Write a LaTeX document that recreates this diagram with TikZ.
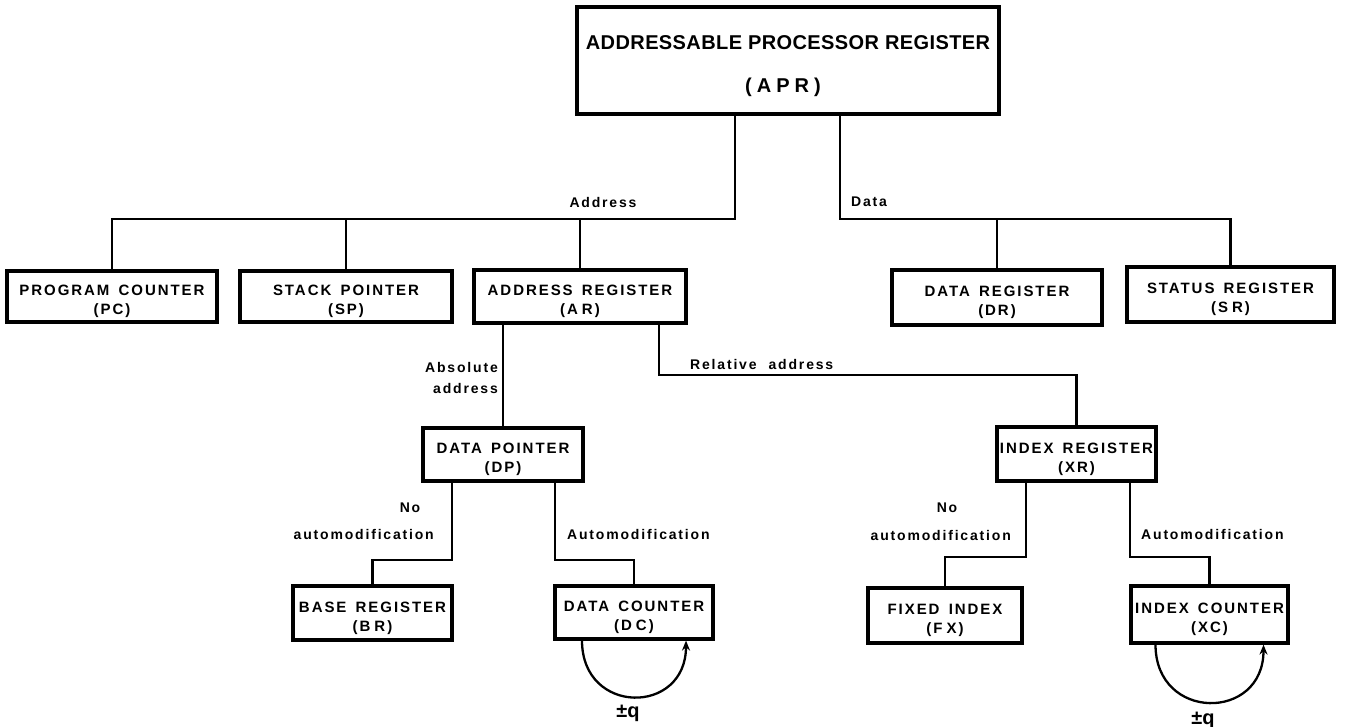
\documentclass[tikz,border=0pt]{standalone}
\usepackage{fontspec}
\setmainfont{Liberation Sans}
\newfontfamily\lblfont[LetterSpace=13,WordSpace=1.5]{Liberation Sans}
\newfontfamily\titlefont[LetterSpace=2]{Liberation Sans}
\newfontfamily\aprfont[LetterSpace=25]{Liberation Sans}
\newcommand\bxup{\rule{0pt}{21pt}}
\newcommand\lsp{\hspace{4pt}}
\usetikzlibrary{arrows.meta}
\begin{document}
\begin{tikzpicture}[x=1pt,y=-1pt,
  box/.style={draw, line width=3.2pt, inner sep=0pt, align=center,
    font=\lblfont\bfseries\fontsize{15}{19}\selectfont},
  conn/.style={line width=2.3pt},
  loop/.style={line width=2.3pt, -{Stealth[length=10pt,width=8pt]}},
  lbl/.style={inner sep=0pt, font=\lblfont\bfseries\fontsize{14}{17}\selectfont},
  ttl/.style={inner sep=0pt, font=\titlefont\bfseries\fontsize{20}{24}\selectfont},
  pmq/.style={inner sep=0pt, font=\bfseries\fontsize{20}{22}\selectfont}]
\useasboundingbox (0,0) rectangle (1349,727);

% boxes
\node[box, minimum width=422pt, minimum height=107pt] (apr) at (788,60.5) {};
\node[ttl] (aprt) at (788,43) {ADDRESSABLE PROCESSOR REGISTER};
\node[ttl, font=\aprfont\bfseries\fontsize{20}{24}\selectfont] (apra) at (783,87) {(APR)};
\node[box, minimum width=210pt, minimum height=51pt] (pc) at (112,296.5) {\bxup PROGRAM COUNTER\\(PC)};
\node[box, minimum width=212pt, minimum height=51pt] (sp) at (346,296.5) {\bxup STACK POINTER\\(SP)};
\node[box, minimum width=212pt, minimum height=53pt] (ar) at (580,296.5) {\bxup ADDRESS REGISTER\\(A\lsp R)};
\node[box, minimum width=210pt, minimum height=55pt] (dr) at (997,297.5) {\bxup DATA REGISTER\\(DR)};
\node[box, minimum width=207pt, minimum height=55pt] (sr) at (1230.5,294.5) {\bxup STATUS REGISTER\\(S\lsp R)};
\node[box, minimum width=160pt, minimum height=53pt] (dp) at (503,454.5) {\bxup DATA POINTER\\(DP)};
\node[box, minimum width=159pt, minimum height=54pt] (xr) at (1076.5,454) {\bxup INDEX REGISTER\\(XR)};
\node[box, minimum width=159pt, minimum height=54pt] (br) at (372.5,613) {\bxup BASE REGISTER\\(B\lsp R)};
\node[box, minimum width=158pt, minimum height=53pt] (dc) at (634,612.5) {\bxup DATA COUNTER\\(D\lsp C)};
\node[box, minimum width=154pt, minimum height=55pt] (fx) at (945,615.5) {\bxup FIXED INDEX\\(F\lsp X)};
\node[box, minimum width=157pt, minimum height=57pt] (xc) at (1209.5,614.5) {\bxup INDEX COUNTER\\(XC)};

% bus coordinates
\coordinate (ab) at (735,219);
\coordinate (db) at (840,219);
\coordinate (rb) at (659,375);
\coordinate (d1) at (452,560);
\coordinate (d2) at (555,560);
\coordinate (x1) at (1026,557);
\coordinate (x2) at (1130,557);

% connectors
\draw[conn] (apr.south -| ab) -- (ab) -| (pc.north);
\draw[conn] (sp.north) -- (sp.north |- ab);
\draw[conn] (ar.north) -- (ar.north |- ab);
\draw[conn] (apr.south -| db) -- (db) -| (sr.north);
\draw[conn] (dr.north) -- (dr.north |- db);
\draw[conn] (ar.south -| dp.north) -- (dp.north);
\draw[conn] (ar.south -| rb) -- (rb) -| (xr.north);
\draw[conn] (dp.south -| d1) -- (d1) -| (br.north);
\draw[conn] (dp.south -| d2) -- (d2) -| (dc.north);
\draw[conn] (xr.south -| x1) -- (x1) -| (fx.north);
\draw[conn] (xr.south -| x2) -- (x2) -| (xc.north);

% loops
\draw[loop] ([xshift=-52pt]dc.south) .. controls +(0,75) and +(0,75) .. ([xshift=52pt]dc.south);
\draw[loop] ([xshift=-54pt]xc.south) .. controls +(0,77) and +(0,77) .. ([xshift=54pt]xc.south);

% labels
\node[lbl] (laddr) at (603,202) {Address};
\node[lbl, anchor=west] (ldata) at (851,202) {Data};
\node[lbl, anchor=east] (labs1) at (498,367) {Absolute};
\node[lbl, anchor=east] (labs2) at (498,388) {address};
\node[lbl, anchor=west] (lrel) at (690,364) {Relative\hspace{12pt}address};
\node[lbl] (lno1) at (410,508) {No};
\node[lbl, anchor=east] (lnoa1) at (434,534) {automodification};
\node[lbl, anchor=west] (lam1) at (567,534) {Automodification};
\node[lbl] (lno2) at (947,508) {No};
\node[lbl, anchor=east] (lnoa2) at (1011,535) {automodification};
\node[lbl, anchor=west] (lam2) at (1141,534) {Automodification};
\node[pmq] (q1) at (628,713) {±q};
\node[pmq] (q2) at (1203,720) {±q};
\end{tikzpicture}
\end{document}
